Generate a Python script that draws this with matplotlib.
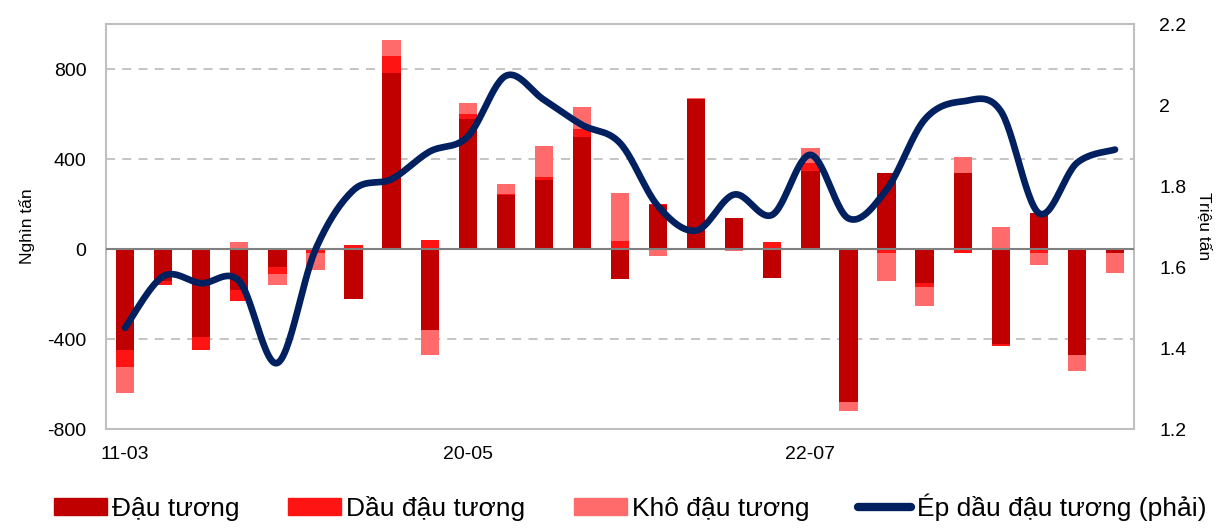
import numpy as np
import matplotlib
matplotlib.use("Agg")
import matplotlib.pyplot as plt
from matplotlib.lines import Line2D
from matplotlib.patches import Patch

plt.rcParams['font.family'] = ['Liberation Sans', 'DejaVu Sans']

# Data
categories = ["11-03", "", "", "", "", "", "", "", "", "20-05", "", "", "", "", "", "", "", "",
              "22-07", "", "", "", "", "", "", "", ""]
dau_tuong = [-448, -144, -390, -181, -80, 0, -220, 782, -362, 578, 238, 308, 500, -132,
             195, 668, 138, -130, 348, -679, 339, -151, 339, -421, 158, -470, -16]
dau_dau_tuong = [-78, -15, -60, -49, -30, -18, 18, 78, 38, 20, 8, 10, 33, 37,
                 4, 0, 0, 30, 34, 5, -18, -20, -18, -9, -18, 0, -3]
kho_dau_tuong = [-114, 0, 0, 29, -50, -74, 0, 70, -108, 52, 45, 141, 96, 212,
                 -30, 3, -10, 0, 68, -40, -122, -81, 70, 98, -53, -71, -88]
ep_dau = [1.45, 1.577, 1.56, 1.565, 1.363, 1.643, 1.79, 1.817, 1.885, 1.922, 2.072, 2.013,
          1.951, 1.906, 1.75, 1.69, 1.779, 1.729, 1.877, 1.72, 1.791, 1.964, 2.009, 1.985,
          1.733, 1.857, 1.89]

series_names = ["Đậu tương", "Dầu đậu tương", "Khô đậu tương", "Ép dầu đậu tương (phải)"]
bar_colors = ["#C00000", "#FF1414", "#FF6B6B"]
line_color = "#002060"


# Excel-like smoothed line (Catmull-Rom through the points)
def smooth_curve(x, y, n=30):
    x = np.asarray(x, float)
    y = np.asarray(y, float)
    px = np.concatenate([[x[0]], x, [x[-1]]])
    py = np.concatenate([[y[0]], y, [y[-1]]])
    xs, ys = [], []
    t = np.linspace(0, 1, n)
    for i in range(1, len(px) - 2):
        p0 = np.array([px[i - 1], py[i - 1]])
        p1 = np.array([px[i], py[i]])
        p2 = np.array([px[i + 1], py[i + 1]])
        p3 = np.array([px[i + 2], py[i + 2]])
        c1 = p1 + (p2 - p0) / 6
        c2 = p2 - (p3 - p1) / 6
        for tt in t:
            pt = ((1 - tt) ** 3) * p1 + 3 * ((1 - tt) ** 2) * tt * c1 + 3 * (1 - tt) * tt ** 2 * c2 + tt ** 3 * p2
            xs.append(pt[0])
            ys.append(pt[1])
    return xs, ys


fig = plt.figure(figsize=(12.16, 5.29), dpi=100)
ax = fig.add_axes([0.0872, 0.189, 0.8454, 0.7656])

x = np.arange(len(categories))
pos_bottom = np.zeros(len(x))
neg_bottom = np.zeros(len(x))
for vals, color in zip([dau_tuong, dau_dau_tuong, kho_dau_tuong], bar_colors):
    vals = np.array(vals, float)
    bottom = np.where(vals >= 0, pos_bottom, neg_bottom)
    ax.bar(x, vals, bottom=bottom, width=0.48, color=color, zorder=2)
    pos_bottom += np.where(vals > 0, vals, 0)
    neg_bottom += np.where(vals < 0, vals, 0)

ax.set_xlim(-0.5, len(x) - 0.5)
ax.set_ylim(-800, 1000)
ax.set_yticks([-800, -400, 0, 400, 800])
ax.set_yticklabels(["-800", "-400", "0", "400", "800"])
for v in [400, 800, -400]:
    ax.axhline(v, color="#BFBFBF", linestyle=(0, (5, 4)), linewidth=1.3, zorder=1)
ax.axhline(0, color="#808080", linewidth=1.5, zorder=3)

ax.set_xticks(x)
ax.set_xticklabels(categories)
ax.tick_params(axis="both", length=0, labelsize=14, colors="black")
ax.tick_params(axis="x", pad=12)
ax.tick_params(axis="y", pad=14)
for s in ax.spines.values():
    s.set_color("#BFBFBF")
    s.set_linewidth(1.5)
ax.set_ylabel("Nghìn tấn", fontsize=12.5, labelpad=9)

ax2 = ax.twinx()
ax2.set_ylim(1.2, 2.2)
ax2.set_yticks([1.2, 1.4, 1.6, 1.8, 2.0, 2.2])
ax2.set_yticklabels(["1.2", "1.4", "1.6", "1.8", "2", "2.2"])
ax2.tick_params(axis="y", length=0, labelsize=14, pad=18)
for s in ax2.spines.values():
    s.set_visible(False)
sx, sy = smooth_curve(x, ep_dau)
ax2.plot(sx, sy, color=line_color, linewidth=4.8, solid_capstyle="round", zorder=4)
ax2.set_ylabel("Triệu tấn", fontsize=12.5, rotation=270, labelpad=18)

handles = [Patch(color=c) for c in bar_colors]
handles.append(Line2D([0], [0], color=line_color, linewidth=6, solid_capstyle="round"))
fig.legend(handles, series_names, loc="lower center", bbox_to_anchor=(0.518, -0.03), ncol=4,
           frameon=False, fontsize=19, handlelength=2.0, handleheight=0.6,
           handletextpad=0.2, columnspacing=1.85)

fig.savefig("out.png", dpi=100)
